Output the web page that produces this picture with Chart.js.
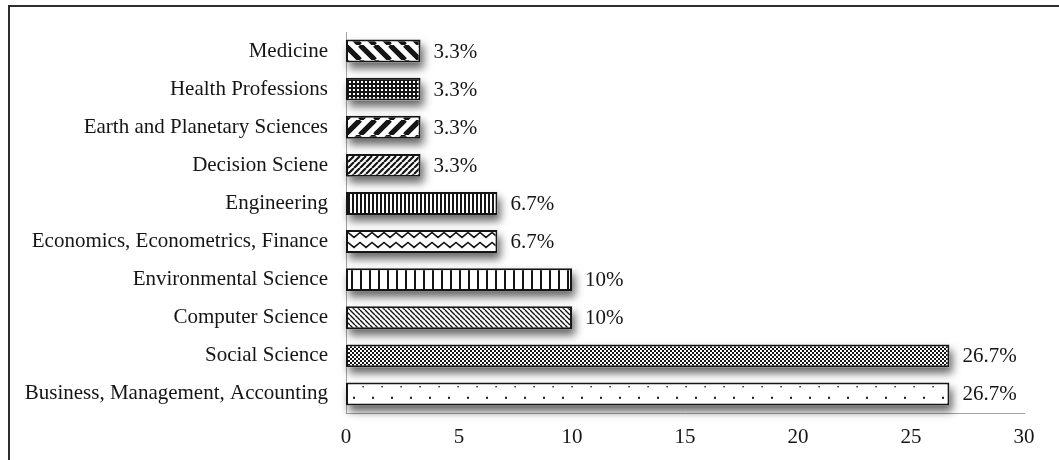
<!DOCTYPE html>
<html>
<head>
<meta charset="utf-8">
<script src="https://cdn.jsdelivr.net/npm/chart.js@4.4.1/dist/chart.umd.min.js"></script>
<style>
  html, body { margin: 0; padding: 0; background: #fff; }
  #wrap { position: relative; width: 1059px; height: 460px; overflow: hidden; background: #fff; }
  #chart { position: absolute; left: 0; top: 0; }
  #frame { position: absolute; left: 8px; top: 5px; right: -10px; bottom: -10px;
           border-top: 2px solid #2e2e2e; border-left: 2px solid #2e2e2e; pointer-events: none; }
</style>
</head>
<body>
<div id="wrap">
  <canvas id="chart" width="1059" height="460"></canvas>
  <div id="frame"></div>
</div>
<script>
// Subject areas, top to bottom
const categories = [
  'Medicine',
  'Health Professions',
  'Earth and Planetary Sciences',
  'Decision Sciene',
  'Engineering',
  'Economics, Econometrics, Finance',
  'Environmental Science',
  'Computer Science',
  'Social Science',
  'Business, Management, Accounting'
];
// Share of publications (%)
const shares = [3.3, 3.3, 3.3, 3.3, 6.7, 6.7, 10, 10, 26.7, 26.7];
const valueLabels = ['3.3%', '3.3%', '3.3%', '3.3%', '6.7%', '6.7%', '10%', '10%', '26.7%', '26.7%'];
const axisTicks = [0, 5, 10, 15, 20, 25, 30];

const FONT = 'Liberation Serif, "Times New Roman", serif';
const FONT_SIZE = 21;
const INK = '#151515';

const canvas = document.getElementById('chart');
const ctx = canvas.getContext('2d');

// ---- fill patterns for each bar ----
function tile(w, h, draw) {
  const c = document.createElement('canvas');
  c.width = w; c.height = h;
  const g = c.getContext('2d');
  g.fillStyle = '#fff';
  g.fillRect(0, 0, w, h);
  g.fillStyle = INK;
  g.strokeStyle = INK;
  draw(g, w, h);
  return ctx.createPattern(c, 'repeat');
}
function diag(p, lw, down) {
  return tile(p, p, (g) => {
    g.lineWidth = lw;
    g.beginPath();
    for (let k = -1; k <= 1; k++) {
      if (down) { g.moveTo(k * p, 0); g.lineTo(k * p + p, p); }
      else { g.moveTo(k * p, p); g.lineTo(k * p + p, 0); }
    }
    g.stroke();
  });
}
const patterns = [
  diag(15, 5.2, true),                       // wide "\" stripes
  tile(4, 4, (g) => { g.fillRect(0, 0, 4, 4); g.fillStyle = '#fff'; g.fillRect(1, 1, 2, 2); }),  // dotted dark
  diag(15, 5.2, false),                      // wide "/" stripes
  diag(6, 2.2, false),                       // narrow "/" stripes
  tile(4, 4, (g) => { g.fillRect(0, 0, 2, 4); }),          // dense vertical lines
  tile(12, 10, (g) => {                      // zigzag waves
    g.lineWidth = 1.7;
    g.beginPath();
    g.moveTo(-6, 7.5); g.lineTo(0, 2.5); g.lineTo(6, 7.5); g.lineTo(12, 2.5); g.lineTo(18, 7.5);
    g.stroke();
  }),
  tile(9, 4, (g) => { g.fillRect(0, 0, 2, 4); }),          // wide vertical lines
  diag(5, 1.4, true),                        // narrow "\" lines
  tile(4, 4, (g) => { g.fillRect(0, 0, 2, 2); g.fillRect(2, 2, 2, 2); }),  // fine checker
  tile(19, 22, (g) => {                      // sparse staggered dots
    g.fillRect(1.4, 12, 1.4, 1.4);
    g.fillRect(11, 0.8, 2, 2);
  })
];

// soft drop shadow drawn under each bar
const barShadow = {
  id: 'barShadow',
  beforeDatasetsDraw(chart) {
    const c = chart.ctx;
    const meta = chart.getDatasetMeta(0);
    c.save();
    c.shadowColor = 'rgba(0,0,0,0.6)';
    c.shadowBlur = 8;
    c.shadowOffsetX = 3;
    c.shadowOffsetY = 6;
    c.fillStyle = '#fff';
    meta.data.forEach((el) => {
      const { x, y, base, height } = el.getProps(['x', 'y', 'base', 'height'], true);
      c.fillRect(Math.min(base, x), y - height / 2, Math.abs(x - base), height);
    });
    c.restore();
  }
};

// value text to the right of each bar
const valueText = {
  id: 'valueText',
  afterDatasetsDraw(chart) {
    const c = chart.ctx;
    const meta = chart.getDatasetMeta(0);
    c.save();
    c.font = FONT_SIZE + 'px ' + FONT;
    c.fillStyle = INK;
    c.textAlign = 'left';
    c.textBaseline = 'middle';
    meta.data.forEach((el, i) => {
      const { x, y } = el.getProps(['x', 'y'], true);
      c.fillText(valueLabels[i], x + 13, y + 1);
    });
    c.restore();
  }
};

new Chart(canvas, {
  type: 'bar',
  data: {
    labels: categories,
    datasets: [{
      data: shares,
      backgroundColor: patterns,
      borderColor: INK,
      borderWidth: 2,
      borderSkipped: false,
      categoryPercentage: 1,
      barPercentage: 0.6,
      clip: false
    }]
  },
  options: {
    indexAxis: 'y',
    responsive: false,
    animation: false,
    devicePixelRatio: 1,
    layout: { padding: { top: 32, right: 35, bottom: 0, left: 0 } },
    plugins: { legend: { display: false }, tooltip: { enabled: false } },
    scales: {
      x: {
        min: 0,
        max: 30,
        afterBuildTicks: (s) => { s.ticks = axisTicks.map((v) => ({ value: v })); },
        afterFit: (s) => { s.height = 47; },
        grid: { display: false, drawTicks: false },
        border: { display: true, color: '#a3a3a3', width: 1 },
        ticks: { padding: 12, color: INK, font: { family: FONT, size: FONT_SIZE } }
      },
      y: {
        afterFit: (s) => { s.width = 346; },
        grid: { display: false, drawTicks: false },
        border: { display: true, color: '#a3a3a3', width: 1 },
        ticks: { padding: 18, color: INK, font: { family: FONT, size: FONT_SIZE } }
      }
    }
  },
  plugins: [barShadow, valueText]
});
</script>
</body>
</html>
